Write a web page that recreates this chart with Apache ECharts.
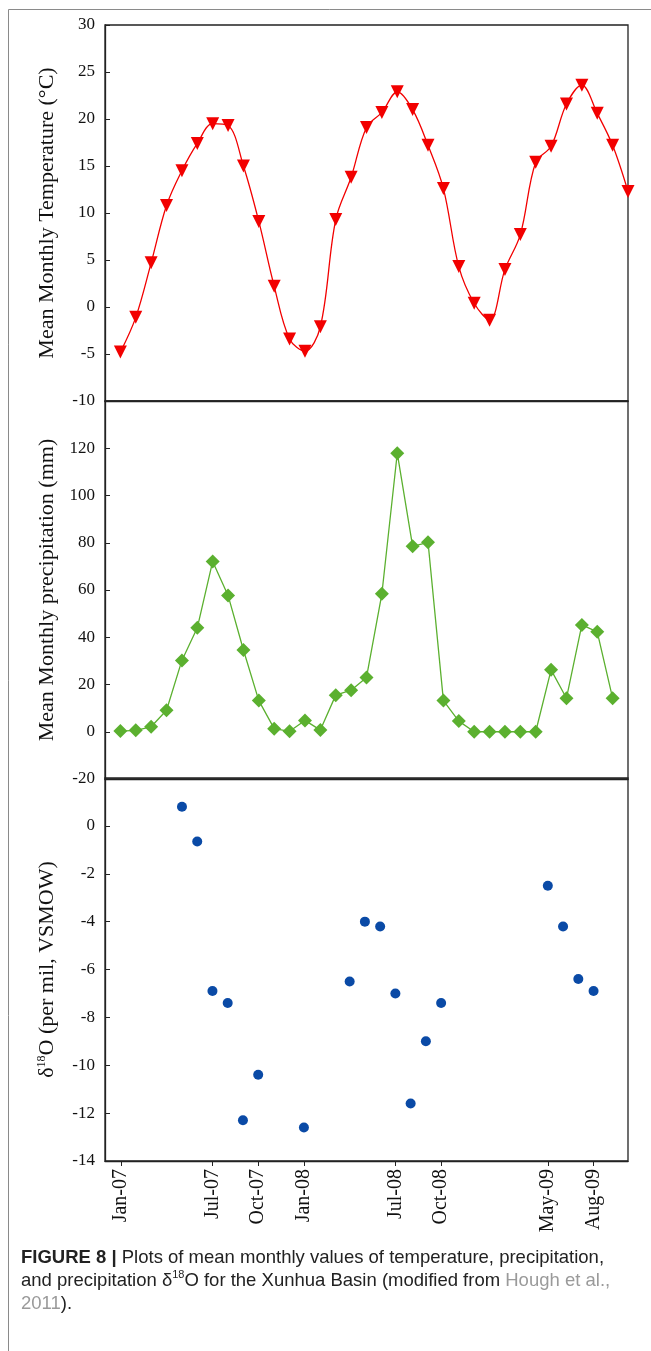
<!DOCTYPE html>
<html>
<head>
<meta charset="utf-8">
<script src="https://cdn.jsdelivr.net/npm/echarts@6/dist/echarts.min.js"></script>
<style>
  html, body { margin: 0; padding: 0; background: #fff; }
  #chart { width: 651px; height: 1351px; }
</style>
</head>
<body>
<div id="chart"></div>
<script>
// months on the x axis, position in this list = x value
const months = [
  'Jan-07', 'Feb-07', 'Mar-07', 'Apr-07', 'May-07', 'Jun-07', 'Jul-07', 'Aug-07', 'Sep-07', 'Oct-07', 'Nov-07', 'Dec-07',
  'Jan-08', 'Feb-08', 'Mar-08', 'Apr-08', 'May-08', 'Jun-08', 'Jul-08', 'Aug-08', 'Sep-08', 'Oct-08', 'Nov-08', 'Dec-08',
  'Jan-09', 'Feb-09', 'Mar-09', 'Apr-09', 'May-09', 'Jun-09', 'Jul-09', 'Aug-09', 'Sep-09', 'Oct-09'
]
const tickMonths = ['Jan-07', 'Jul-07', 'Oct-07', 'Jan-08', 'Jul-08', 'Oct-08', 'May-09', 'Aug-09']

// mean monthly temperature (°C), Jan-07 .. Oct-09
const tempC = [
  -4.8, -1.1, 4.7, 10.8, 14.5, 17.4, 19.5, 19.3, 15.0, 9.1, 2.2, -3.4,
  -4.7, -2.1, 9.3, 13.8, 19.1, 20.7, 22.9, 21.0, 17.2, 12.6, 4.3, 0.4,
  -1.4, 4.0, 7.7, 15.4, 17.1, 21.6, 23.6, 20.6, 17.2, 12.3
]
// mean monthly precipitation (mm), Jan-07 .. Sep-09
const precipMm = [
  0.3, 0.6, 2.1, 9.1, 30.2, 44.0, 72.1, 57.7, 34.6, 13.2, 1.3, 0.2,
  4.8, 0.7, 15.5, 17.6, 23.0, 58.4, 117.9, 78.5, 80.2, 13.2, 4.5, 0,
  0, 0, 0, 0, 26.2, 14.2, 45.2, 42.3, 14.2
]
// precipitation d18O (per mil, VSMOW)
const d18OMonths = [
  'May-07', 'Jun-07', 'Jul-07', 'Aug-07', 'Sep-07', 'Oct-07', 'Jan-08',
  'Apr-08', 'May-08', 'Jun-08', 'Jul-08', 'Aug-08', 'Sep-08', 'Oct-08',
  'May-09', 'Jun-09', 'Jul-09', 'Aug-09'
]
const d18O = [
  0.8, -0.65, -6.9, -7.4, -12.3, -10.4, -12.6,
  -6.5, -4.0, -4.2, -7.0, -11.6, -9.0, -7.4,
  -2.5, -4.2, -6.4, -6.9
]

const serif = '"Liberation Serif", "DejaVu Serif", serif'
const sans = '"Liberation Sans", Arial, sans-serif'
const labelStyle = { fontFamily: serif, fontSize: 17, color: '#111', margin: 10 }
const nameStyle = { fontFamily: serif, fontSize: 22, color: '#111' }
const lineCol = '#222'

function yAx(gridIndex, min, max, interval, name, extra) {
  return Object.assign({
    type: 'value',
    gridIndex: gridIndex,
    min: min,
    max: max,
    interval: interval,
    name: name,
    nameLocation: 'middle',
    nameGap: 47,
    nameTextStyle: nameStyle,
    axisLine: { show: true, onZero: false, lineStyle: { color: lineCol, width: 1.3 } },
    axisTick: { show: true, inside: true, length: 5, lineStyle: { color: lineCol } },
    axisLabel: labelStyle,
    splitLine: { show: false }
  }, extra || {})
}

function xAx(gridIndex, min, max, extra) {
  return Object.assign({
    type: 'value',
    gridIndex: gridIndex,
    min: min,
    max: max,
    axisLine: { show: true, onZero: false, lineStyle: { color: lineCol, width: 1.3 } },
    axisTick: { show: false },
    axisLabel: { show: false },
    splitLine: { show: false }
  }, extra || {})
}

const tickIdx = tickMonths.map(m => months.indexOf(m))

const chart = echarts.init(document.getElementById('chart'))
chart.setOption({
  animation: false,
  backgroundColor: '#fff',
  grid: [
    { left: 105, top: 25, width: 523, height: 376, show: true, borderColor: lineCol, borderWidth: 1.3 },
    { left: 105, top: 401, width: 523, height: 378, show: true, borderColor: lineCol, borderWidth: 1.3 },
    { left: 105, top: 778, width: 523, height: 383, show: true, borderColor: lineCol, borderWidth: 1.3 }
  ],
  xAxis: [
    xAx(0, -1, 33),
    xAx(1, -1, 33),
    xAx(2, -1.05, 33.26, {
      axisTick: { show: true, inside: false, length: 5, customValues: tickIdx, lineStyle: { color: lineCol } },
      axisLabel: {
        show: true,
        customValues: tickIdx,
        rotate: 90,
        fontFamily: serif,
        fontSize: 20,
        color: '#111',
        margin: 8,
        formatter: v => months[Math.round(v)]
      }
    })
  ],
  yAxis: [
    yAx(0, -10, 30, 5, 'Mean Monthly Temperature (°C)'),
    yAx(1, -20, 140, 20, 'Mean Monthly precipitation (mm)', {
      axisLabel: Object.assign({}, labelStyle, { showMaxLabel: false })
    }),
    yAx(2, -14, 2, 2, '{a|δ}{s|18}{a|O (per mil, VSMOW)}', {
      axisLabel: Object.assign({}, labelStyle, { showMaxLabel: false }),
      nameTextStyle: Object.assign({}, nameStyle, {
        rich: {
          a: { fontFamily: serif, fontSize: 22, color: '#111' },
          s: { fontFamily: serif, fontSize: 12, color: '#111', verticalAlign: 'top', padding: [0, 0, 9, 0] }
        }
      })
    })
  ],
  series: [
    {
      name: 'Temperature',
      type: 'line',
      xAxisIndex: 0,
      yAxisIndex: 0,
      smooth: 0.35,
      data: tempC.map((v, i) => [i, v]),
      symbol: 'triangle',
      symbolRotate: 180,
      symbolSize: 13,
      itemStyle: { color: '#F20000' },
      lineStyle: { color: '#F20000', width: 1.3 }
    },
    {
      name: 'Precipitation',
      type: 'line',
      xAxisIndex: 1,
      yAxisIndex: 1,
      data: precipMm.map((v, i) => [i, v]),
      symbol: 'diamond',
      symbolSize: 14,
      itemStyle: { color: '#5BB02F' },
      lineStyle: { color: '#5BB02F', width: 1.3 }
    },
    {
      name: 'd18O',
      type: 'scatter',
      xAxisIndex: 2,
      yAxisIndex: 2,
      data: d18O.map((v, i) => [months.indexOf(d18OMonths[i]), v]),
      symbol: 'circle',
      symbolSize: 10,
      itemStyle: { color: '#0A4AA6', opacity: 1 }
    }
  ],
  graphic: [
    {
      type: 'polyline',
      shape: { points: [[8.5, 1351], [8.5, 9.5], [651, 9.5]] },
      style: { stroke: '#8a8a8a', lineWidth: 1, fill: null }
    },
    {
      type: 'text',
      left: 21,
      top: 1246,
      style: {
        text: '{b|FIGURE 8 |} Plots of mean monthly values of temperature, precipitation,\n' +
          'and precipitation δ{s|18}O for the Xunhua Basin (modified from {g|Hough et al.,}\n' +
          '{g|2011}).',
        fontFamily: sans,
        fontSize: 18.5,
        lineHeight: 23,
        fill: '#222',
        rich: {
          b: { fontFamily: sans, fontSize: 18.5, fontWeight: 'bold', fill: '#222', lineHeight: 23 },
          s: { fontFamily: sans, fontSize: 11, fill: '#222', verticalAlign: 'top', padding: [0, 0, 8, 0] },
          g: { fontFamily: sans, fontSize: 18.5, fill: '#9a9a9a', lineHeight: 23 }
        }
      }
    }
  ]
})
</script>
</body>
</html>
